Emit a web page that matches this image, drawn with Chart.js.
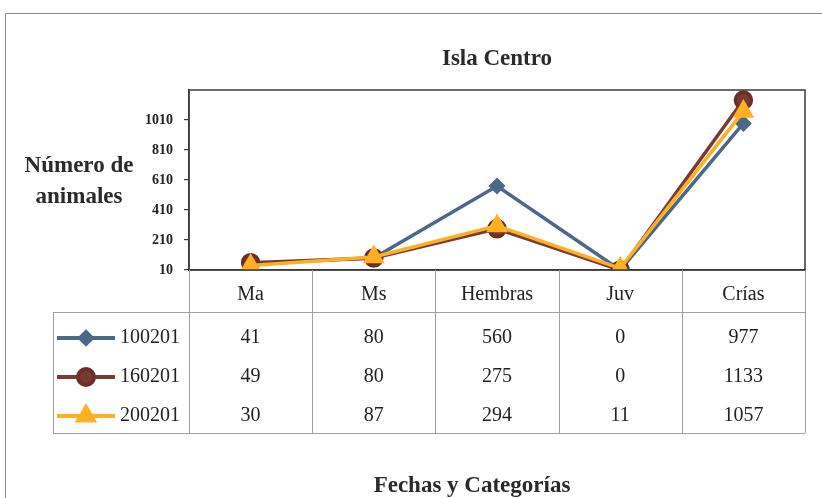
<!DOCTYPE html>
<html>
<head>
<meta charset="utf-8">
<script src="https://cdn.jsdelivr.net/npm/chart.js@4/dist/chart.umd.min.js"></script>
<style>
    body { margin: 0; background: #fff; }
    #wrap { width: 822px; height: 498px; position: relative; }
</style>
</head>
<body>
<div id="wrap"><canvas id="chart"></canvas></div>
<script>
// Chart data
const categories = ['Ma', 'Ms', 'Hembras', 'Juv', 'Crías'];
const seriesNames = ['100201', '160201', '200201'];
const values100201 = [41, 80, 560, 0, 977];
const values160201 = [49, 80, 275, 0, 1133];
const values200201 = [30, 87, 294, 11, 1057];
const tickValues = [0, 200, 400, 600, 800, 1000];
const tickLabels = ['10', '210', '410', '610', '810', '1010'];

const serif = '"Liberation Serif", "DejaVu Serif", serif';
const lineColor = '#3a3a3a';
const tableColor = '#a0a0a0';

// Draws page frame, plot frame, titles and the data table
const decorPlugin = {
    id: 'decor',
    beforeDraw(chart) {
        const ctx = chart.ctx;
        ctx.save();
        ctx.strokeStyle = '#8a8a8a';
        ctx.lineWidth = 1;
        ctx.beginPath();
        ctx.moveTo(5.5, 498);
        ctx.lineTo(5.5, 13.5);
        ctx.lineTo(822, 13.5);
        ctx.stroke();
        ctx.restore();
    },
    afterDraw(chart) {
        const ctx = chart.ctx;
        const area = chart.chartArea;
        const x = chart.scales.x;

        ctx.save();
        // plot frame
        ctx.strokeStyle = lineColor;
        ctx.lineWidth = 1.5;
        ctx.strokeRect(area.left, area.top, area.right - area.left, area.bottom - area.top);

        // titles
        ctx.fillStyle = '#2a2a2a';
        ctx.font = 'bold 23px ' + serif;
        ctx.textAlign = 'center';
        ctx.textBaseline = 'alphabetic';
        ctx.fillText('Isla Centro', (area.left + area.right) / 2, 65);
        ctx.fillText('Número de', 79, 172);
        ctx.fillText('animales', 79, 203);
        ctx.fillText('Fechas y Categorías', 472, 492);

        // data table
        const half = (x.getPixelForValue(1) - x.getPixelForValue(0)) / 2;
        const tableLeft = 53;
        const headBottom = 312;
        const tableBottom = 433;
        ctx.strokeStyle = tableColor;
        ctx.lineWidth = 1;
        ctx.beginPath();
        for (let i = 0; i <= categories.length; i++) {
            const px = Math.round(x.getPixelForValue(0) - half + i * half * 2) + 0.5;
            ctx.moveTo(px, area.bottom);
            ctx.lineTo(px, tableBottom);
        }
        ctx.moveTo(tableLeft + 0.5, headBottom);
        ctx.lineTo(tableLeft + 0.5, tableBottom);
        ctx.moveTo(tableLeft, headBottom + 0.5);
        ctx.lineTo(area.right, headBottom + 0.5);
        ctx.moveTo(tableLeft, tableBottom + 0.5);
        ctx.lineTo(area.right, tableBottom + 0.5);
        ctx.stroke();

        const rowY = [338, 377, 416];
        ctx.font = '20px ' + serif;
        ctx.textBaseline = 'middle';
        chart.data.datasets.forEach((ds, r) => {
            // legend key
            ctx.strokeStyle = ds.borderColor;
            ctx.lineWidth = 4;
            ctx.beginPath();
            ctx.moveTo(57, rowY[r]);
            ctx.lineTo(115, rowY[r]);
            ctx.stroke();
            ctx.fillStyle = ds.pointBackgroundColor;
            ctx.strokeStyle = ds.pointBorderColor;
            Chart.helpers.drawPoint(ctx, {
                pointStyle: ds.pointStyle,
                radius: ds.pointRadius,
                borderWidth: 1,
                rotation: 0
            }, 86, rowY[r]);

            ctx.fillStyle = '#222';
            ctx.textAlign = 'left';
            ctx.fillText(ds.label, 120, rowY[r]);
            ctx.textAlign = 'center';
            ds.data.forEach((v, i) => {
                ctx.fillText(String(v), x.getPixelForValue(i), rowY[r]);
            });
        });
        ctx.restore();
    }
};

const ctx = document.getElementById('chart').getContext('2d');
const chart = new Chart(ctx, {
    type: 'line',
    data: {
        labels: categories,
        datasets: [{
            label: seriesNames[0],
            data: values100201,
            borderColor: '#4b6789',
            pointBackgroundColor: '#4b6789',
            pointBorderColor: '#4b6789',
            pointStyle: 'rectRot',
            pointRadius: 6,
            borderWidth: 3.5,
            order: 3
        }, {
            label: seriesNames[1],
            data: values160201,
            borderColor: '#7a3a31',
            pointBackgroundColor: '#7a3a31',
            pointBorderColor: '#6a2f28',
            pointStyle: 'circle',
            pointRadius: 8,
            borderWidth: 3.5,
            order: 2
        }, {
            label: seriesNames[2],
            data: values200201,
            borderColor: '#ffaf22',
            pointBackgroundColor: '#ffaf22',
            pointBorderColor: '#ffaf22',
            pointStyle: 'triangle',
            pointRadius: 9,
            borderWidth: 3.5,
            order: 1
        }]
    },
    options: {
        responsive: true,
        maintainAspectRatio: false,
        animation: false,
        layout: { padding: { top: 90, right: 17, bottom: 0, left: 0 } },
        plugins: {
            legend: { display: false },
            tooltip: { enabled: false },
            title: { display: false }
        },
        scales: {
            x: {
                offset: true,
                grid: { display: false, drawTicks: false },
                border: { display: true, color: lineColor, width: 1.5 },
                ticks: {
                    color: '#222',
                    font: { family: serif, size: 20 },
                    padding: 13,
                    maxRotation: 0
                },
                afterFit(scale) { scale.height = 228; }
            },
            y: {
                min: 0,
                max: 1200,
                afterBuildTicks(scale) {
                    scale.ticks = tickValues.map(v => ({ value: v }));
                },
                grid: {
                    drawOnChartArea: false,
                    drawTicks: true,
                    tickLength: 5,
                    color: lineColor,
                    lineWidth: 1.2
                },
                border: { display: true, color: lineColor, width: 1.5 },
                ticks: {
                    color: '#222',
                    font: { family: serif, size: 14, weight: 'bold' },
                    padding: 11,
                    callback: function(value, index) {
                        return tickLabels[index];
                    }
                },
                afterFit(scale) { scale.width = 189; }
            }
        }
    },
    plugins: [decorPlugin]
});
</script>
</body>
</html>
